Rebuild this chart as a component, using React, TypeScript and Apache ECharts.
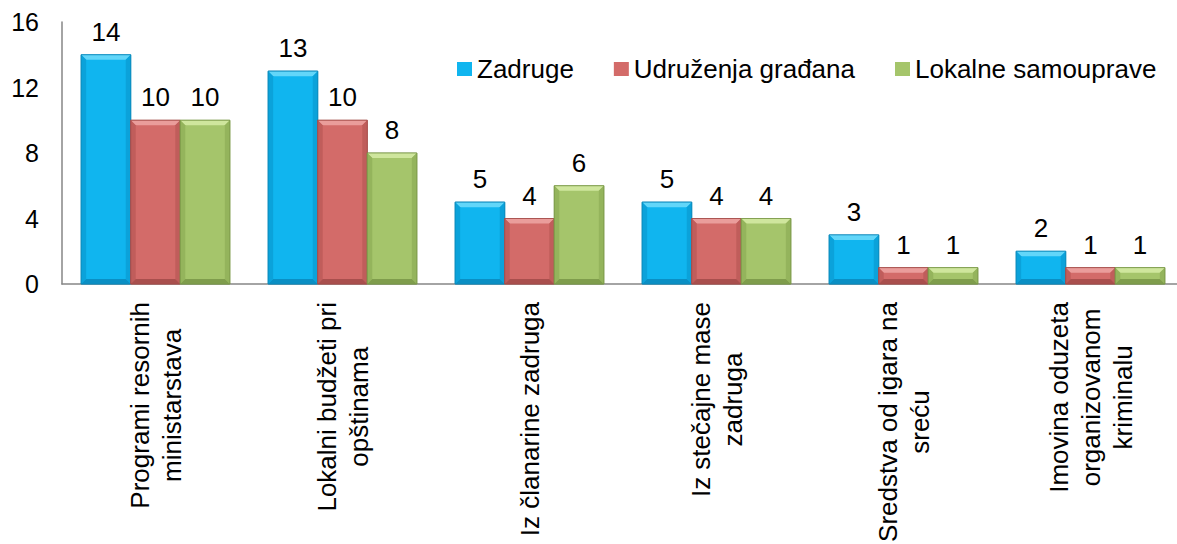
import React, { useEffect, useRef } from "react";
import * as echarts from "echarts";

const FONT = "'Liberation Sans', Arial, sans-serif";

const categories = [
  "Programi resornih\nministarstava",
  "Lokalni budžeti pri\nopštinama",
  "Iz članarine zadruga",
  "Iz stečajne mase\nzadruga",
  "Sredstva od igara na\nsreću",
  "Imovina oduzeta\norganizovanom\nkriminalu",
];

const seriesNames = ["Zadruge", "Udruženja građana", "Lokalne samouprave"];
const zadruge = [14, 13, 5, 5, 3, 2];
const udruzenja = [10, 10, 4, 4, 1, 1];
const lokalne = [10, 8, 6, 4, 1, 1];
const seriesValues = [zadruge, udruzenja, lokalne];

const yMin = 0;
const yMax = 16;
const yInterval = 4;

const palettes = [
  { face: "#10B5EF", top: "#62D6F9", side: "#0BA2DA", bottom: "#0A8FC4", edge: "#0A88BA" },
  { face: "#D36B69", top: "#EA9D9B", side: "#C05D5B", bottom: "#A94F4D", edge: "#A34B49" },
  { face: "#A5C56B", top: "#CFE69D", side: "#94B45C", bottom: "#7F9D4C", edge: "#7A9848" },
];

export default function App() {
  const ref = useRef<HTMLDivElement>(null);

  useEffect(() => {
    if (!ref.current) return;
    const chart = echarts.init(ref.current, null, { renderer: "svg" });

    const makeRender = (sIdx: number) => (params: any, api: any) => {
      const pal = palettes[sIdx];
      const cat = api.value(0);
      const val = api.value(1);
      const base = api.coord([cat, 0]);
      const topPt = api.coord([cat, val]);
      const catW = api.size([1, 0])[0];
      const bw = catW * 0.265;
      const cx = base[0] + (sIdx - 1) * bw;
      const x0 = cx - bw / 2;
      const x1 = cx + bw / 2;
      const y0 = topPt[1];
      const y1 = base[1];
      const b = Math.min(5, (y1 - y0) / 2, bw / 2);
      return {
        type: "group",
        children: [
          {
            type: "rect",
            shape: { x: x0, y: y0, width: bw, height: y1 - y0 },
            style: { fill: pal.face, stroke: pal.edge, lineWidth: 0.8 },
          },
          {
            type: "polygon",
            shape: { points: [[x0, y0], [x1, y0], [x1 - b, y0 + b], [x0 + b, y0 + b]] },
            style: { fill: pal.top },
          },
          {
            type: "polygon",
            shape: { points: [[x0, y0], [x0 + b, y0 + b], [x0 + b, y1 - b], [x0, y1]] },
            style: { fill: pal.side },
          },
          {
            type: "polygon",
            shape: { points: [[x1, y0], [x1, y1], [x1 - b, y1 - b], [x1 - b, y0 + b]] },
            style: { fill: pal.side },
          },
          {
            type: "polygon",
            shape: { points: [[x0, y1], [x0 + b, y1 - b], [x1 - b, y1 - b], [x1, y1]] },
            style: { fill: pal.bottom },
          },
          {
            type: "rect",
            shape: { x: x0, y: y0, width: bw, height: y1 - y0 },
            style: { fill: "none", stroke: pal.edge, lineWidth: 0.8 },
          },
          {
            type: "text",
            x: cx,
            y: y0 - 10,
            style: {
              text: String(val),
              fill: "#000",
              fontSize: 26,
              fontFamily: FONT,
              align: "center",
              verticalAlign: "bottom",
            },
          },
        ],
      };
    };

    chart.setOption({
      animation: false,
      textStyle: { fontFamily: FONT },
      legend: {
        data: seriesNames,
        left: 452,
        top: 49,
        icon: "rect",
        itemWidth: 15,
        itemHeight: 14,
        itemGap: 40,
        textStyle: { fontSize: 26, color: "#000", fontFamily: FONT, lineHeight: 30 },
      },
      grid: {
        left: 62,
        top: 22,
        width: 1122,
        height: 262,
        containLabel: false,
        outerBoundsMode: "none",
      },
      xAxis: {
        type: "category",
        data: categories,
        axisLine: { show: true, lineStyle: { color: "#868686", width: 1.5 } },
        axisTick: { show: true, alignWithLabel: true, inside: true, length: 4, lineStyle: { color: "#868686" } },
        splitLine: { show: false },
        axisLabel: {
          interval: 0,
          rotate: 90,
          margin: 18,
          fontSize: 26,
          lineHeight: 32,
          color: "#000",
          fontFamily: FONT,
          hideOverlap: false,
          formatter: (v: string) => v.split("\n").map((l) => `{c|${l}}`).join("\n"),
          rich: {
            c: { align: "center", fontSize: 26, lineHeight: 32, color: "#000", fontFamily: FONT },
          },
        },
      },
      yAxis: {
        type: "value",
        min: yMin,
        max: yMax,
        interval: yInterval,
        axisLine: { show: true, lineStyle: { color: "#868686", width: 1.5 } },
        axisTick: { show: false },
        splitLine: { show: false },
        axisLabel: { fontSize: 25, color: "#000", margin: 23, fontFamily: FONT },
      },
      series: seriesNames.map((name, sIdx) => ({
        name,
        type: "custom",
        coordinateSystem: "cartesian2d",
        itemStyle: { color: palettes[sIdx].face },
        encode: { x: 0, y: 1 },
        data: seriesValues[sIdx].map((v, i) => [i, v]),
        renderItem: makeRender(sIdx),
      })),
    });

    return () => chart.dispose();
  }, []);

  return (
    <div
      ref={ref}
      style={{ position: "absolute", left: 0, top: 0, width: 1177, height: 544, background: "#fff" }}
    />
  );
}
